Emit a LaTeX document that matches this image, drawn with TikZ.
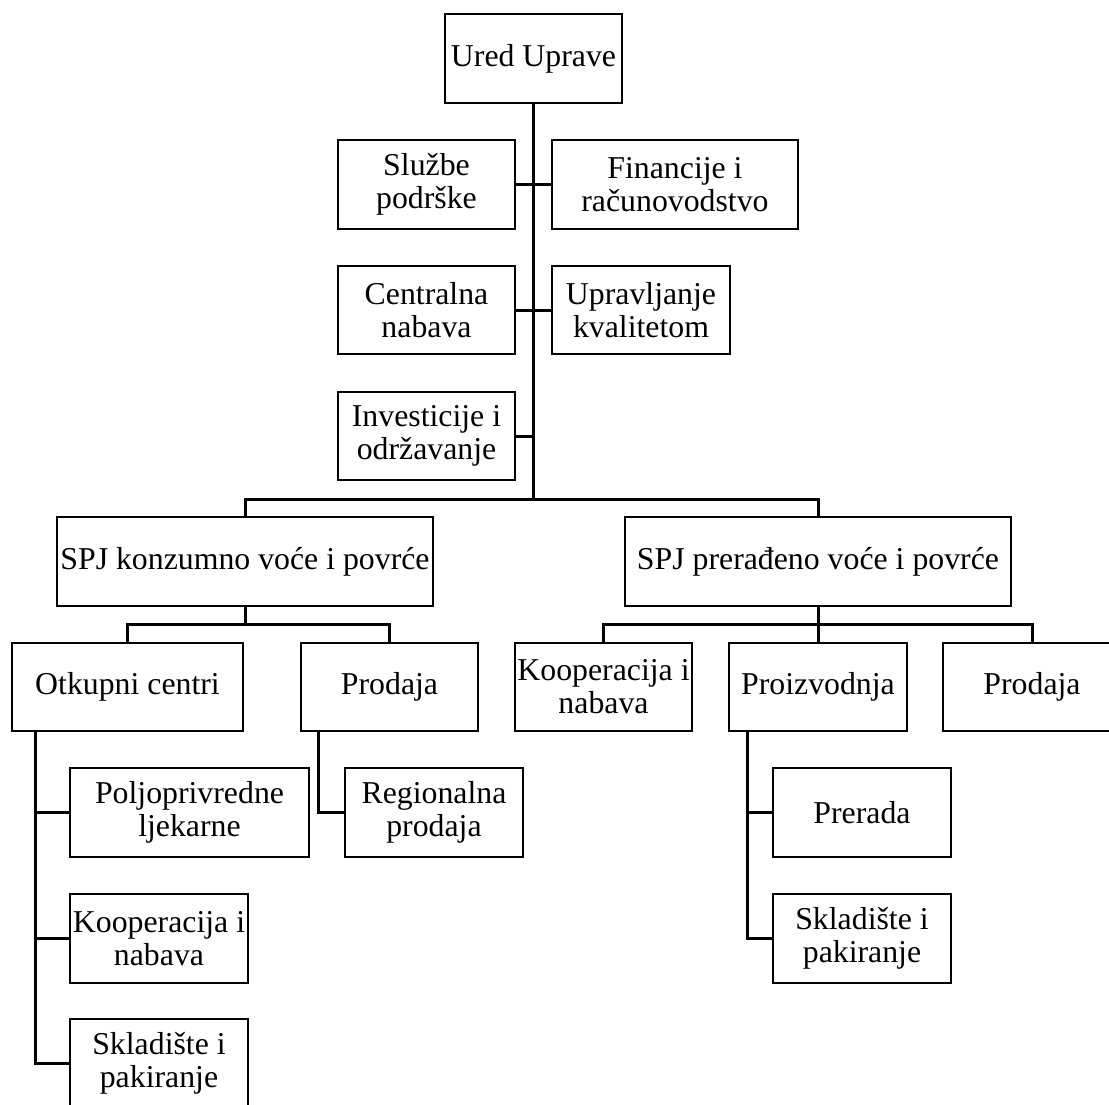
\documentclass[tikz,border=0pt]{standalone}
\usepackage{fontspec}
\setmainfont{Liberation Serif}
\begin{document}
\begin{tikzpicture}[x=1pt,y=-1pt,
  box/.style={draw=black,line width=2.3pt,inner sep=0pt,align=center,
    minimum height=89pt,font=\fontsize{31.8}{33}\selectfont},
  w177/.style={minimum width=177pt},
  link/.style={draw=black,line width=3pt,line cap=rect}]
\useasboundingbox (0,0) rectangle (1109,1104);
\clip (0,0) rectangle (1109,1104);
% top
\node[box,w177] (ured) at (533.5,58.5) {Ured Uprave};
\node[box,w177] (sluzbe) at (426.5,184.5) {Službe\\podrške};
\node[box,minimum width=246pt] (fin) at (675,184.5) {Financije i\\računovodstvo};
\node[box,w177,minimum height=88pt] (centr) at (426.5,310) {Centralna\\nabava};
\node[box,minimum width=178pt,minimum height=88pt] (kval) at (641,310) {Upravljanje\\kvalitetom};
\node[box,w177,minimum height=88pt] (invest) at (426.5,436) {Investicije i\\održavanje};
% SPJ
\node[box,minimum width=376pt] (spjk) at (245,561.5) {SPJ konzumno voće i povrće};
\node[box,minimum width=386pt] (spjp) at (818,561.5) {SPJ prerađeno voće i povrće};
% level 3
\node[box,minimum width=231pt,minimum height=88pt] (otk) at (127.5,687) {Otkupni centri};
\node[box,w177,minimum height=88pt] (prodk) at (389.5,687) {Prodaja};
\node[box,w177,minimum height=88pt] (koop2) at (603.5,687) {Kooperacija i\\nabava};
\node[box,minimum width=178pt,minimum height=88pt] (proiz) at (818,687) {Proizvodnja};
\node[box,minimum width=178pt,minimum height=88pt] (prodp) at (1032,687) {Prodaja};
% level 4
\node[box,minimum width=239pt] (polj) at (189.5,812.5) {Poljoprivredne\\ljekarne};
\node[box,minimum width=178pt] (koop1) at (159,938.5) {Kooperacija i\\nabava};
\node[box,minimum width=178pt] (skl1) at (159,1063.5) {Skladište i\\pakiranje};
\node[box,minimum width=178pt] (reg) at (434,812.5) {Regionalna\\prodaja};
\node[box,minimum width=178pt] (prer) at (862,812.5) {Prerada};
\node[box,minimum width=178pt] (skl2) at (862,938.5) {Skladište i\\pakiranje};
% trunk
\coordinate (bar) at (533.5,499);
\draw[link] (ured.south) -- (bar);
\draw[link] (sluzbe.east) -- (fin.west);
\draw[link] (centr.east) -- (kval.west);
\draw[link] (invest.east) -- (invest.east -| bar);
\draw[link] (spjk.north) |- (bar) -| (spjp.north);
% SPJ konzumno children
\coordinate (bk) at (245,624);
\draw[link] (spjk.south) -- (bk);
\draw[link] (otk.north) |- (bk) -| (prodk.north);
% SPJ preradjeno children
\coordinate (bp) at (818,624);
\draw[link] (spjp.south) -- (bp);
\draw[link] (koop2.north) |- (bp) -| (prodp.north);
\draw[link] (bp) -- (proiz.north);
% Otkupni centri children
\coordinate (ot) at (35,731);
\draw[link] (ot) |- (skl1.west);
\draw[link] (ot |- polj.west) -- (polj.west);
\draw[link] (ot |- koop1.west) -- (koop1.west);
% Prodaja child
\coordinate (pk) at (318,731);
\draw[link] (pk) |- (reg.west);
% Proizvodnja children
\coordinate (pz) at (747,731);
\draw[link] (pz) |- (skl2.west);
\draw[link] (pz |- prer.west) -- (prer.west);
\end{tikzpicture}
\end{document}
